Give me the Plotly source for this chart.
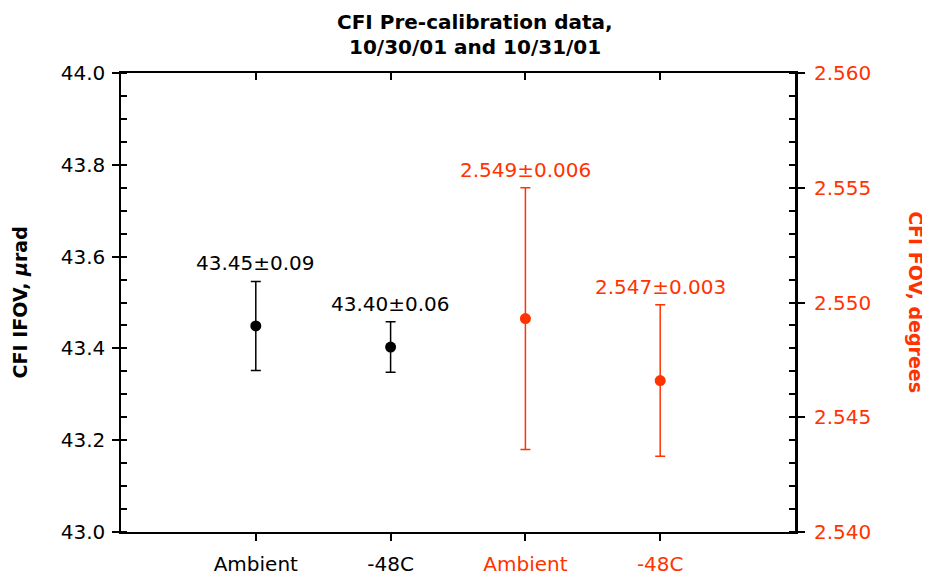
import plotly.graph_objects as go

# ---- data ----
categories = ["Ambient", "-48C", "Ambient", "-48C"]
cat_colors = ["black", "black", "#ff3300", "#ff3300"]
cat_pos = [1, 2, 3, 4]

ifov_vals = [43.449, 43.403]
ifov_err = [0.097, 0.055]
ifov_labels = ["43.45±0.09", "43.40±0.06"]

fov_vals = [2.5493, 2.5466]
fov_err = [0.0057, 0.0033]
fov_labels = ["2.549±0.006", "2.547±0.003"]

title_lines = ["CFI Pre-calibration data,", "10/30/01 and 10/31/01"]

RED = "#ff3300"
FONT = "DejaVu Sans"

fig = go.Figure()

fig.add_trace(go.Scatter(
    x=cat_pos[:2], y=ifov_vals, mode="markers",
    marker=dict(color="black", size=11),
    error_y=dict(type="data", array=ifov_err, color="black", thickness=1.5, width=5),
    xaxis="x", yaxis="y", showlegend=False,
))
fig.add_trace(go.Scatter(
    x=cat_pos[2:], y=fov_vals, mode="markers",
    marker=dict(color=RED, size=11),
    error_y=dict(type="data", array=fov_err, color=RED, thickness=1.5, width=5),
    xaxis="x", yaxis="y2", showlegend=False,
))
# invisible trace to activate top axis
fig.add_trace(go.Scatter(x=[0], y=[43], xaxis="x2", yaxis="y", mode="markers",
                         marker=dict(opacity=0), showlegend=False, hoverinfo="skip"))

annotations = []
for x, v, e, t in zip(cat_pos[:2], ifov_vals, ifov_err, ifov_labels):
    annotations.append(dict(x=x, y=v + e, xref="x", yref="y", text=t, showarrow=False,
                            yanchor="bottom", yshift=4, font=dict(family=FONT, size=20, color="black")))
for x, v, e, t in zip(cat_pos[2:], fov_vals, fov_err, fov_labels):
    annotations.append(dict(x=x, y=v + e, xref="x", yref="y2", text=t, showarrow=False,
                            yanchor="bottom", yshift=4, font=dict(family=FONT, size=20, color=RED)))

annotations.append(dict(x=-0.15, y=0.5, xref="paper", yref="paper", text="CFI IFOV, <i>μ</i>rad",
                        textangle=-90, showarrow=False, xanchor="center", yanchor="middle",
                        font=dict(family=FONT, size=19, color="black", weight="bold")))
annotations.append(dict(x=1.18, y=0.5, xref="paper", yref="paper", text="CFI FOV, degrees",
                        textangle=90, showarrow=False, xanchor="center", yanchor="middle",
                        font=dict(family=FONT, size=19, color=RED, weight="bold")))
for yy, line in zip([1.111, 1.057], title_lines):
    annotations.append(dict(x=0.525, y=yy, xref="paper", yref="paper", text=line,
                            showarrow=False, xanchor="center", yanchor="middle", borderpad=0,
                            font=dict(family=FONT, size=20, color="black", weight="bold")))

ticktext = [f"<span style='color:{c}'>{t}</span>" for t, c in zip(categories, cat_colors)]

# page body has an 8px default margin, so the figure is sized/offset to compensate
fig.update_layout(
    width=922, height=573,
    margin=dict(l=113, r=135, t=65, b=49, autoexpand=False),
    plot_bgcolor="white", paper_bgcolor="white",
    font=dict(family=FONT, size=20, color="black"),
    xaxis=dict(range=[0, 5], tickvals=cat_pos, ticktext=ticktext, ticks="outside",
               ticklen=7, tickwidth=1.5, tickcolor="black", showline=True, linecolor="black",
               linewidth=1.5, showgrid=False, zeroline=False, automargin=False,
               ticklabelstandoff=6, tickfont=dict(family=FONT, size=20)),
    xaxis2=dict(range=[0, 5], tickvals=cat_pos, overlaying="x", side="top", ticks="inside",
                ticklen=7, tickwidth=1.5, tickcolor="black", showticklabels=False,
                showline=True, linecolor="black", linewidth=1.5, showgrid=False,
                zeroline=False, automargin=False),
    yaxis=dict(range=[43.0, 44.0], dtick=0.2, tick0=43.0, tickformat=".1f", ticks="outside",
               ticklen=7, tickwidth=1.5, tickcolor="black", showline=True, linecolor="black",
               linewidth=1.5, showgrid=False, zeroline=False, automargin=False,
               ticklabelstandoff=3,
               minor=dict(dtick=0.05, ticks="inside", ticklen=6, tickwidth=1.5, tickcolor="black",
                          showgrid=False),
               tickfont=dict(family=FONT, size=20, color="black")),
    yaxis2=dict(range=[2.540, 2.560], dtick=0.005, tick0=2.540, tickformat=".3f",
                overlaying="y", side="right", ticks="outside", ticklen=7, tickwidth=1.5,
                tickcolor="black", showline=True, linecolor="black", linewidth=3,
                showgrid=False, zeroline=False, automargin=False, ticklabelstandoff=5,
                minor=dict(dtick=0.001, ticks="inside", ticklen=6, tickwidth=1.5,
                           tickcolor="black", showgrid=False),
                tickfont=dict(family=FONT, size=20, color=RED)),
    annotations=annotations,
)

fig.write_html("out.html")
